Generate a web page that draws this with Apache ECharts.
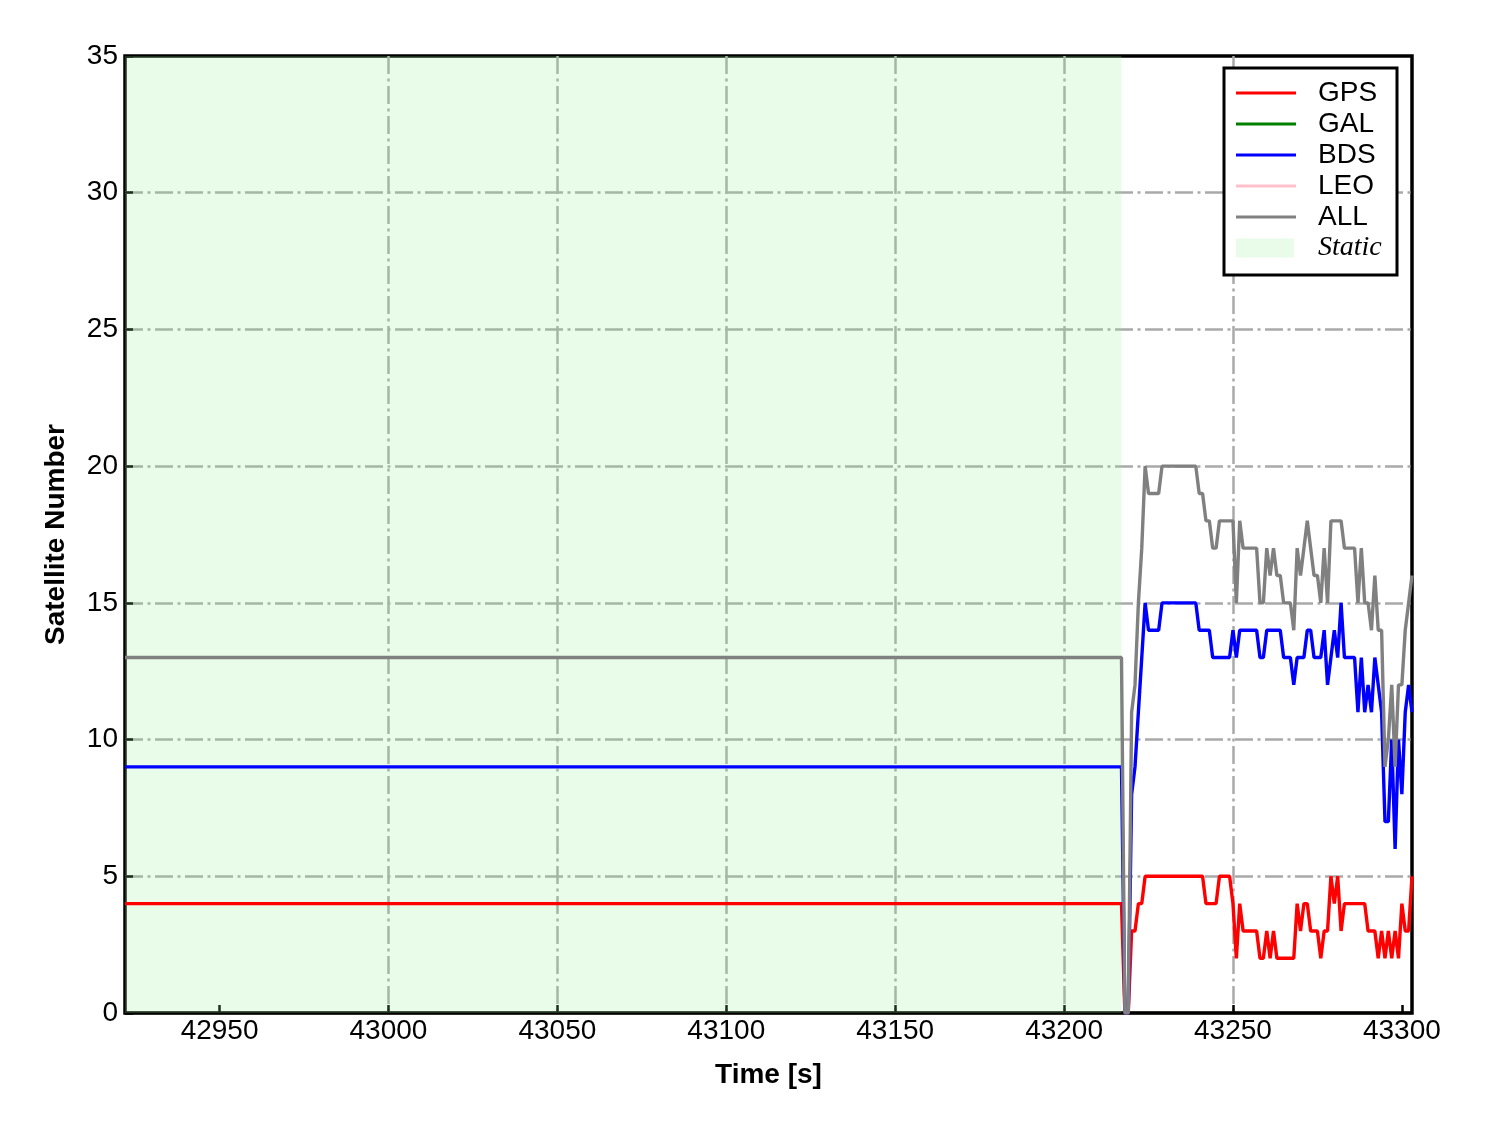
<!DOCTYPE html>
<html>
<head>
<meta charset="utf-8">
<script src="https://cdn.jsdelivr.net/npm/echarts@6/dist/echarts.min.js"></script>
<style>
html,body{margin:0;padding:0;background:#ffffff;}
#chart{width:1488px;height:1133px;}
</style>
</head>
<body>
<div id="chart"></div>
<script>
// ---- data ----
const times = [42922, 43217,
  43218,43219,43220,43221,43222,43223,43224,43225,43226,43227,43228,43229,43230,43231,43232,43233,43234,43235,
  43236,43237,43238,43239,43240,43241,43242,43243,43244,43245,43246,43247,43248,43249,43250,43251,43252,43253,
  43254,43255,43256,43257,43258,43259,43260,43261,43262,43263,43264,43265,43266,43267,43268,43269,43270,43271,
  43272,43273,43274,43275,43276,43277,43278,43279,43280,43281,43282,43283,43284,43285,43286,43287,43288,43289,
  43290,43291,43292,43293,43294,43295,43296,43297,43298,43299,43300,43301,43302,43303];
const gps = [4, 4,
  0,0,3,3,4,4,5,5,5,5,5,5,5,5,5,5,5,5,
  5,5,5,5,5,5,4,4,4,4,5,5,5,5,4,2,4,3,
  3,3,3,3,2,2,3,2,3,2,2,2,2,2,2,4,3,4,
  4,3,3,3,2,3,3,5,4,5,3,4,4,4,4,4,4,4,
  3,3,3,2,3,2,3,2,3,2,4,3,3,5];
const gal = [0, 0,
  0,0,0,0,0,0,0,0,0,0,0,0,0,0,0,0,0,0,
  0,0,0,0,0,0,0,0,0,0,0,0,0,0,0,0,0,0,
  0,0,0,0,0,0,0,0,0,0,0,0,0,0,0,0,0,0,
  0,0,0,0,0,0,0,0,0,0,0,0,0,0,0,0,0,0,
  0,0,0,0,0,0,0,0,0,0,0,0,0,0];
const bds = [9, 9,
  0,0,8,9,11,13,15,14,14,14,14,15,15,15,15,15,15,15,
  15,15,15,15,14,14,14,14,13,13,13,13,13,13,14,13,14,14,
  14,14,14,14,13,13,14,14,14,14,14,13,13,13,12,13,13,13,
  14,14,13,13,13,14,12,13,14,13,15,13,13,13,13,11,13,11,
  12,11,13,12,11,7,7,10,6,10,8,11,12,11];
const leo = [0, 0,
  0,0,0,0,0,0,0,0,0,0,0,0,0,0,0,0,0,0,
  0,0,0,0,0,0,0,0,0,0,0,0,0,0,0,0,0,0,
  0,0,0,0,0,0,0,0,0,0,0,0,0,0,0,0,0,0,
  0,0,0,0,0,0,0,0,0,0,0,0,0,0,0,0,0,0,
  0,0,0,0,0,0,0,0,0,0,0,0,0,0];
const allSat = [13, 13,
  0,0,11,12,15,17,20,19,19,19,19,20,20,20,20,20,20,20,
  20,20,20,20,19,19,18,18,17,17,18,18,18,18,18,15,18,17,
  17,17,17,17,15,15,17,16,17,16,16,15,15,15,14,17,16,17,
  18,17,16,16,15,17,15,18,18,18,18,17,17,17,17,15,17,15,
  15,14,16,14,14,9,10,12,9,12,12,14,15,16];
const staticSpan = [42922, 43217];
const xTicks = [42950, 43000, 43050, 43100, 43150, 43200, 43250, 43300];
const yTicks = [0, 5, 10, 15, 20, 25, 30, 35];
const seriesNames = ['GPS', 'GAL', 'BDS', 'LEO', 'ALL'];
const staticName = 'Static';

// ---- chart ----
const FONT = '"Liberation Sans", Arial, Helvetica, sans-serif';
const SERIF = '"Liberation Serif", "Times New Roman", "DejaVu Serif", serif';
const colors = {GPS:'#ff0000', GAL:'#008000', BDS:'#0000ff', LEO:'#ffc0cb', ALL:'#808080'};
const gridLine = {color:'#a9a9a9', width:2.5, type:[18, 4.5, 3, 4.5]};

function pairs(vals){ return times.map((t,i)=>[t, vals[i]]); }
const valuesByName = {GPS:gps, GAL:gal, BDS:bds, LEO:leo, ALL:allSat};

const chart = echarts.init(document.getElementById('chart'), null, {renderer:'canvas', width:1488, height:1133});

const lineSeries = seriesNames.map(n => ({
  name: n,
  type: 'line',
  data: pairs(valuesByName[n]),
  showSymbol: false,
  symbol: 'none',
  z: (n === 'GAL' || n === 'LEO') ? -1 : 2,
  color: colors[n],
  itemStyle: {color: colors[n]},
  lineStyle: {color: colors[n], width: 3.4},
  emphasis: {disabled: true},
  animation: false
}));

const option = {
  animation: false,
  backgroundColor: '#ffffff',
  grid: {left:125, right:76, top:56, bottom:120, show:true, borderColor:'#000000', borderWidth:3.5, backgroundColor:'transparent'},
  xAxis: {
    type: 'value',
    min: times[0],
    max: times[times.length-1],
    axisLine: {show:false},
    axisTick: {show:true, inside:true, length:8, lineStyle:{color:'#000', width:2.5}, customValues: xTicks},
    axisLabel: {customValues: xTicks, fontSize:28, color:'#000', fontFamily:FONT, margin:4,
      formatter: v => String(v)},
    splitLine: {show:true, showMinLine:false, showMaxLine:false, lineStyle: gridLine},
    name: 'Time [s]',
    nameLocation: 'middle',
    nameGap: 48,
    nameTextStyle: {fontSize:28, fontWeight:'bold', color:'#000', fontFamily:FONT}
  },
  yAxis: {
    type: 'value',
    min: yTicks[0],
    max: yTicks[yTicks.length-1],
    interval: 5,
    axisLine: {show:false},
    axisTick: {show:true, inside:true, length:8, lineStyle:{color:'#000', width:2.5}},
    axisLabel: {fontSize:28, color:'#000', fontFamily:FONT, margin:7, formatter: v => String(v)},
    splitLine: {show:true, showMinLine:false, showMaxLine:false, lineStyle: gridLine},
    name: 'Satellite Number',
    nameLocation: 'middle',
    nameGap: 55,
    nameTextStyle: {fontSize:28, fontWeight:'bold', color:'#000', fontFamily:FONT}
  },
  legend: [
    {
      orient: 'vertical', left: 1236, top: 79, padding: 0,
      itemWidth: 60, itemHeight: 3, itemGap: 3, icon: 'rect',
      selectedMode: false,
      data: seriesNames,
      textStyle: {fontSize:28, lineHeight:28, color:'#000', fontFamily:FONT, padding:[0,0,0,17]}
    },
    {
      orient: 'vertical', left: 1236, top: 234, padding: 0,
      itemWidth: 58, itemHeight: 19, icon: 'rect',
      selectedMode: false,
      data: [staticName],
      textStyle: {fontSize:28, lineHeight:28, color:'#000', fontFamily:SERIF, fontStyle:'italic', padding:[0,0,0,19]}
    }
  ],
  graphic: [{
    type: 'rect', z: 3,
    shape: {x:1224, y:68, width:173, height:207},
    style: {fill:'#ffffff', stroke:'#000000', lineWidth:3}
  }],
  series: [
    {
      name: staticName,
      type: 'line',
      data: [],
      z: -1,
      color: 'rgba(144,238,144,0.2)',
      itemStyle: {color: 'rgba(144,238,144,0.2)'},
      markArea: {
        silent: true,
        itemStyle: {color: 'rgba(144,238,144,0.2)'},
        data: [[{xAxis: staticSpan[0]}, {xAxis: staticSpan[1]}]]
      }
    }
  ].concat(lineSeries)
};
chart.setOption(option);
</script>
</body>
</html>
